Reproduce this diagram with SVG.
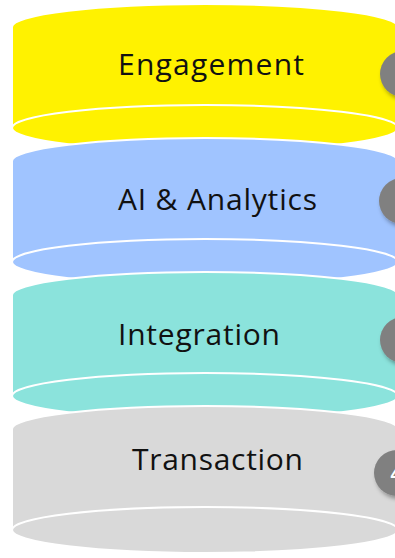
<svg xmlns="http://www.w3.org/2000/svg" width="395" height="558" viewBox="0 0 395 558">
<defs>
<filter id="sh" x="-50%" y="-50%" width="200%" height="200%">
<feDropShadow dx="2" dy="3" stdDeviation="2" flood-color="#000" flood-opacity="0.35"/>
</filter>
<style>
.body{stroke:#fff;stroke-width:2}
.cap{stroke:#fff;stroke-width:2}
.lbl{font-family:"Open Sans","Liberation Sans",sans-serif;font-size:30px;fill:#111}
.badge{fill:#808080;filter:url(#sh)}
.num{font-family:"Liberation Sans",sans-serif;font-weight:bold;font-size:20px;fill:#fff;text-anchor:middle}
</style>
</defs>
<rect width="395" height="558" fill="#fff"/>
<g id="engagement">
<path class="body" fill="#fff200" d="M12,27 A193,23 0 0 1 398,27 L398,128 A193,23 0 0 1 12,128 Z"/>
<ellipse class="cap" fill="#fff200" cx="205" cy="128" rx="193" ry="23"/>
<text class="lbl" x="118" y="75" textLength="186" lengthAdjust="spacing">Engagement</text>
<circle class="badge" cx="403" cy="74" r="23"/>
</g>
<g id="ai-analytics">
<path class="body" fill="#a0c4ff" d="M12,161 A193,23 0 0 1 398,161 L398,262 A193,23 0 0 1 12,262 Z"/>
<ellipse class="cap" fill="#a0c4ff" cx="205" cy="262" rx="193" ry="23"/>
<text class="lbl" x="118" y="210" textLength="199" lengthAdjust="spacing">AI &amp; Analytics</text>
<circle class="badge" cx="402" cy="201" r="23"/>
</g>
<g id="integration">
<path class="body" fill="#8be3dc" d="M12,295 A193,23 0 0 1 398,295 L398,396 A193,23 0 0 1 12,396 Z"/>
<ellipse class="cap" fill="#8be3dc" cx="205" cy="396" rx="193" ry="23"/>
<text class="lbl" x="118" y="345" textLength="162" lengthAdjust="spacing">Integration</text>
<circle class="badge" cx="403" cy="340" r="23"/>
</g>
<g id="transaction">
<path class="body" fill="#d9d9d9" d="M12,429 A193,23 0 0 1 398,429 L398,530 A193,23 0 0 1 12,530 Z"/>
<ellipse class="cap" fill="#d9d9d9" cx="205" cy="530" rx="193" ry="23"/>
<text class="lbl" x="132" y="470" textLength="171" lengthAdjust="spacing">Transaction</text>
<circle class="badge" cx="397" cy="473" r="23"/>
<text class="num" x="396" y="481">4</text>
</g>
<g id="connectors"/>
</svg>
